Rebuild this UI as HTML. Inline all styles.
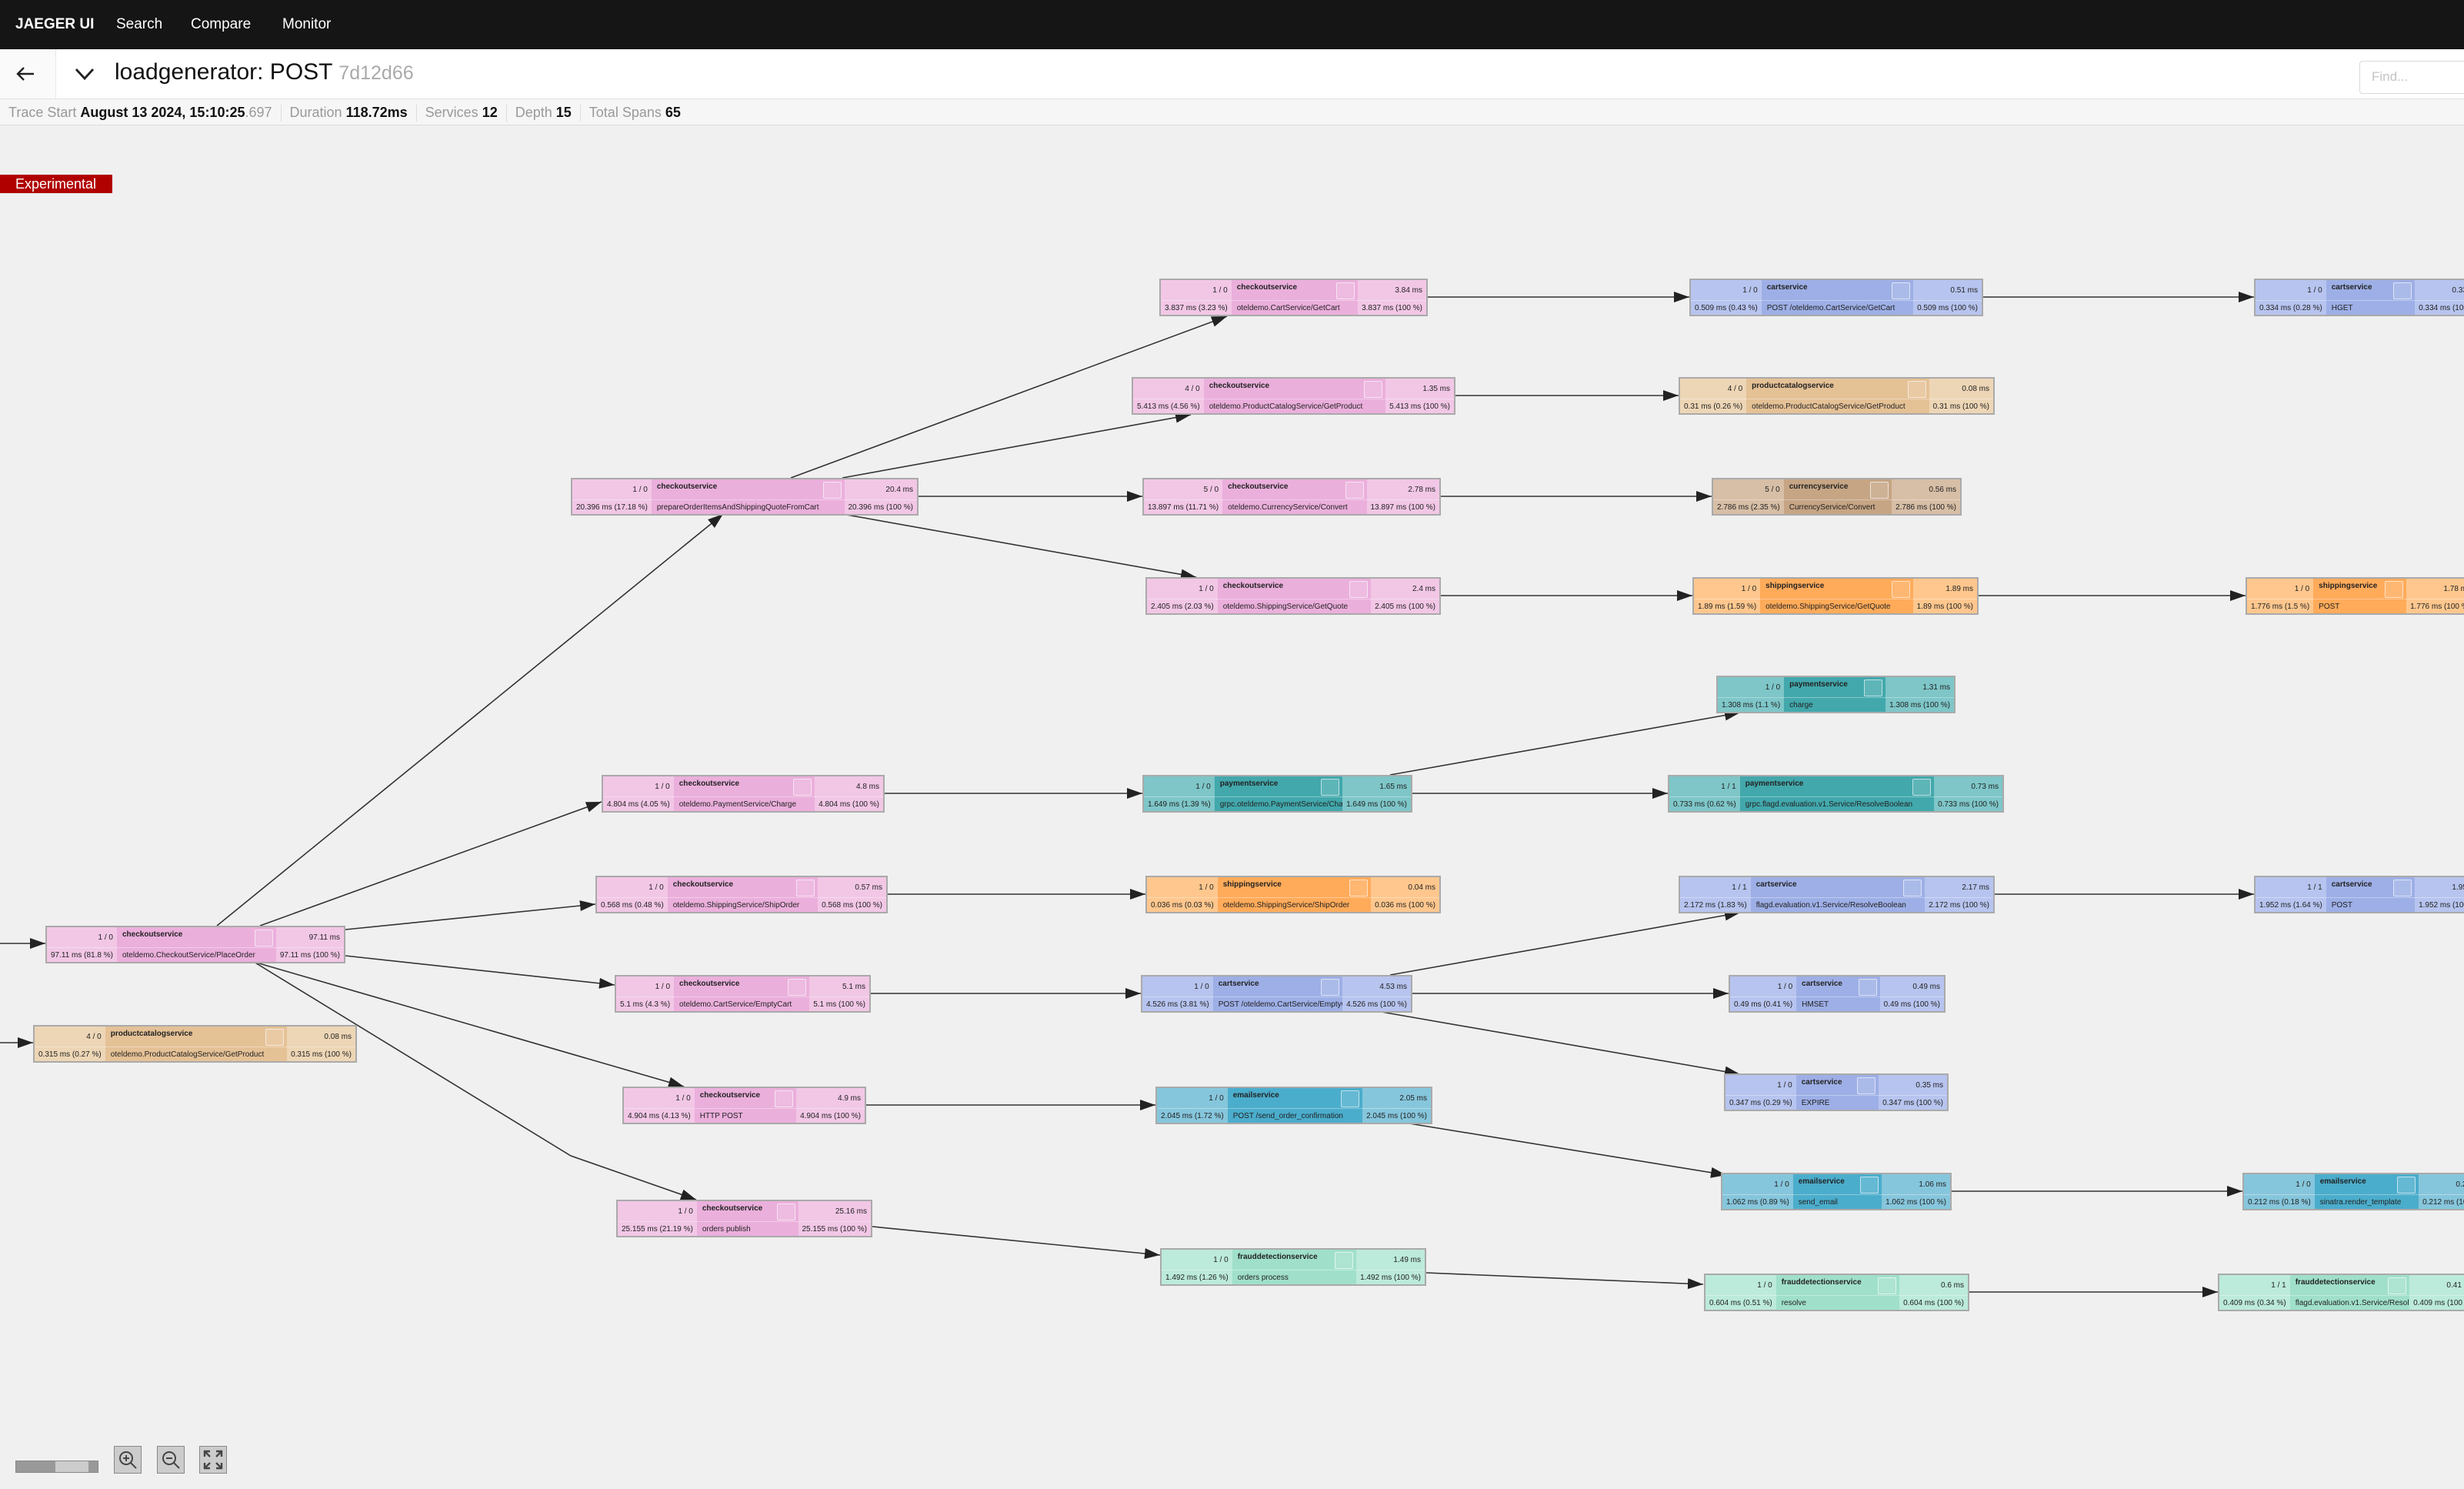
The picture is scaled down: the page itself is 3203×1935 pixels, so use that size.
<!DOCTYPE html>
<html><head><meta charset="utf-8">
<style>
*{margin:0;padding:0;box-sizing:border-box}
body{width:3203px;height:1935px;overflow:hidden;background:#f0f0f0;font-family:"Liberation Sans",sans-serif;position:relative}
.nav{position:absolute;left:0;top:0;width:3203px;height:64px;background:#151515;color:#fff;font-size:19px}
.nav span{position:absolute;top:21px}
.tb{position:absolute;left:0;top:64px;width:3203px;height:65px;background:#fff;border-bottom:1px solid #e2e2e2}
.back{position:absolute;left:0;top:0;width:73px;height:65px;border-right:1px solid #e6e6e6;border-bottom:1px solid #e2e2e2;background:#fafafa}
.title{position:absolute;left:149px;top:13px;font-size:30px;color:#111}
.title small{font-size:25px;color:#aaa}
.find{position:absolute;left:3067px;top:15px;width:150px;height:43px;border:1px solid #d9d9d9;border-radius:4px;color:#c4c4c4;font-size:17px;padding:10px 15px}
.st{position:absolute;left:0;top:129px;width:3203px;height:34px;background:#f6f6f6;border-bottom:1px solid #ddd;font-size:18px;color:#999;padding:7px 0 0 11px;white-space:nowrap}
.st b{color:#111}
.st .sep{display:inline-block;width:1px;height:22px;background:#ddd;margin:0 11px;vertical-align:middle}
.exp{position:absolute;left:0;top:227px;width:146px;height:24px;background:#b00000;color:#fff;font-size:18px;padding:2px 0 0 20px}
svg.e{position:absolute;left:0;top:0}
.n{position:absolute;height:49px;display:grid;grid-template-columns:auto minmax(0,1fr) auto;grid-template-rows:26px 21px;border:2px solid #aaa;font-size:10px;color:#222;white-space:nowrap;overflow:hidden}
.n>*{background:var(--l);padding:0 5px;overflow:hidden;font-style:normal}
.n>:nth-child(2),.n>:nth-child(5){background:var(--m);padding-left:7px}
.n>:nth-child(1),.n>:nth-child(3){text-align:right;padding-top:8px}
.n>:nth-child(2){font-weight:bold;padding-top:4px;position:relative}
.n>:nth-child(2)::after{content:"";position:absolute;right:4px;top:3px;width:22px;height:20px;border:1px solid rgba(255,255,255,.6);background:rgba(255,255,255,.15);border-radius:2px}
.n>:nth-child(n+4){padding-top:4px;border-top:1px solid rgba(255,255,255,.35)}
.n>:nth-child(4),.n>:nth-child(6){text-align:right}
.ck{--l:#f2c7e6;--m:#ebafdc}
.pc{--l:#edd6b6;--m:#e5c196}
.cu{--l:#d7bea6;--m:#c6a584}
.sh{--l:#ffc78e;--m:#ffab5a}
.ca{--l:#b7c4ef;--m:#9dafe6}
.pa{--l:#7ec6c8;--m:#42a8ac}
.em{--l:#86c6dc;--m:#4badcc}
.fr{--l:#bceadb;--m:#a0e0cb}
.ctl{position:absolute;border:1px solid #888;background:#ccc}
</style></head><body>
<div class="nav"><span style="left:20px;font-weight:bold">JAEGER UI</span><span style="left:151px">Search</span><span style="left:248px">Compare</span><span style="left:367px">Monitor</span></div>
<div class="tb">
<div class="back"><svg width="73" height="65"><path d="M44 32H23M31 24l-8 8 8 8" stroke="#222" stroke-width="2.4" fill="none"/></svg></div>
<svg style="position:absolute;left:96px;top:20px" width="28" height="24"><path d="M3 6l11 12 11-12" stroke="#222" stroke-width="2.8" fill="none"/></svg>
<div class="title">loadgenerator: POST <small>7d12d66</small></div>
<div class="find">Find...</div>
</div>
<div class="st">Trace Start <b>August 13 2024, 15:10:25</b>.697<span class="sep"></span>Duration <b>118.72ms</b><span class="sep"></span>Services <b>12</b><span class="sep"></span>Depth <b>15</b><span class="sep"></span>Total Spans <b>65</b></div>
<div class="exp">Experimental</div>

<svg class="e" width="3203" height="1935">
<defs><marker id="a" markerUnits="userSpaceOnUse" markerWidth="22" markerHeight="16" refX="20" refY="7" orient="auto"><path d="M0,0L20,7L0,14z" fill="#222"/></marker></defs>
<g stroke="#333" stroke-width="1.6" fill="none" marker-end="url(#a)">
<line x1="0" y1="1226" x2="59" y2="1226"/>
<line x1="0" y1="1355" x2="43" y2="1355"/>
<line x1="282" y1="1203" x2="940" y2="668"/>
<line x1="338" y1="1203" x2="782" y2="1042"/>
<line x1="449" y1="1208" x2="774" y2="1175"/>
<line x1="449" y1="1242" x2="799" y2="1280"/>
<line x1="330" y1="1250" x2="889" y2="1412"/>
<polyline points="330,1250 742,1502 905,1559"/>
<line x1="1028" y1="621" x2="1595" y2="411"/>
<line x1="1095" y1="621" x2="1548" y2="539"/>
<line x1="1194" y1="645" x2="1485" y2="645"/>
<line x1="1095" y1="668" x2="1555" y2="750"/>
<line x1="1856" y1="386" x2="2196" y2="386"/>
<line x1="2578" y1="386" x2="2930" y2="386"/>
<line x1="1892" y1="514" x2="2182" y2="514"/>
<line x1="1873" y1="645" x2="2225" y2="645"/>
<line x1="1873" y1="774" x2="2200" y2="774"/>
<line x1="2572" y1="774" x2="2919" y2="774"/>
<line x1="1150" y1="1031" x2="1485" y2="1031"/>
<line x1="1807" y1="1007" x2="2262" y2="926"/>
<line x1="1836" y1="1031" x2="2168" y2="1031"/>
<line x1="1154" y1="1162" x2="1489" y2="1162"/>
<line x1="2593" y1="1162" x2="2930" y2="1162"/>
<line x1="1132" y1="1291" x2="1483" y2="1291"/>
<line x1="1807" y1="1267" x2="2262" y2="1186"/>
<line x1="1836" y1="1291" x2="2247" y2="1291"/>
<line x1="1790" y1="1314" x2="2262" y2="1396"/>
<line x1="1126" y1="1436" x2="1502" y2="1436"/>
<line x1="1826" y1="1459" x2="2244" y2="1527"/>
<line x1="2537" y1="1548" x2="2915" y2="1548"/>
<line x1="1134" y1="1594" x2="1508" y2="1631"/>
<line x1="1854" y1="1654" x2="2214" y2="1669"/>
<line x1="2560" y1="1679" x2="2883" y2="1679"/>
</g></svg>

<div class="n ck" style="left:59px;top:1203px;width:390px"><i>1 / 0</i><b>checkoutservice</b><i>97.11 ms</i><i>97.11 ms (81.8 %)</i><span>oteldemo.CheckoutService/PlaceOrder</span><i>97.11 ms (100 %)</i></div>
<div class="n pc" style="left:43px;top:1332px;width:421px"><i>4 / 0</i><b>productcatalogservice</b><i>0.08 ms</i><i>0.315 ms (0.27 %)</i><span>oteldemo.ProductCatalogService/GetProduct</span><i>0.315 ms (100 %)</i></div>
<div class="n ck" style="left:742px;top:621px;width:452px"><i>1 / 0</i><b>checkoutservice</b><i>20.4 ms</i><i>20.396 ms (17.18 %)</i><span>prepareOrderItemsAndShippingQuoteFromCart</span><i>20.396 ms (100 %)</i></div>
<div class="n ck" style="left:1507px;top:362px;width:349px"><i>1 / 0</i><b>checkoutservice</b><i>3.84 ms</i><i>3.837 ms (3.23 %)</i><span>oteldemo.CartService/GetCart</span><i>3.837 ms (100 %)</i></div>
<div class="n ck" style="left:1471px;top:490px;width:421px"><i>4 / 0</i><b>checkoutservice</b><i>1.35 ms</i><i>5.413 ms (4.56 %)</i><span>oteldemo.ProductCatalogService/GetProduct</span><i>5.413 ms (100 %)</i></div>
<div class="n ck" style="left:1485px;top:621px;width:388px"><i>5 / 0</i><b>checkoutservice</b><i>2.78 ms</i><i>13.897 ms (11.71 %)</i><span>oteldemo.CurrencyService/Convert</span><i>13.897 ms (100 %)</i></div>
<div class="n ck" style="left:1489px;top:750px;width:384px"><i>1 / 0</i><b>checkoutservice</b><i>2.4 ms</i><i>2.405 ms (2.03 %)</i><span>oteldemo.ShippingService/GetQuote</span><i>2.405 ms (100 %)</i></div>
<div class="n ck" style="left:782px;top:1007px;width:368px"><i>1 / 0</i><b>checkoutservice</b><i>4.8 ms</i><i>4.804 ms (4.05 %)</i><span>oteldemo.PaymentService/Charge</span><i>4.804 ms (100 %)</i></div>
<div class="n ck" style="left:774px;top:1138px;width:380px"><i>1 / 0</i><b>checkoutservice</b><i>0.57 ms</i><i>0.568 ms (0.48 %)</i><span>oteldemo.ShippingService/ShipOrder</span><i>0.568 ms (100 %)</i></div>
<div class="n ck" style="left:799px;top:1267px;width:333px"><i>1 / 0</i><b>checkoutservice</b><i>5.1 ms</i><i>5.1 ms (4.3 %)</i><span>oteldemo.CartService/EmptyCart</span><i>5.1 ms (100 %)</i></div>
<div class="n ck" style="left:809px;top:1412px;width:317px"><i>1 / 0</i><b>checkoutservice</b><i>4.9 ms</i><i>4.904 ms (4.13 %)</i><span>HTTP POST</span><i>4.904 ms (100 %)</i></div>
<div class="n ck" style="left:801px;top:1559px;width:333px"><i>1 / 0</i><b>checkoutservice</b><i>25.16 ms</i><i>25.155 ms (21.19 %)</i><span>orders publish</span><i>25.155 ms (100 %)</i></div>
<div class="n ca" style="left:2196px;top:362px;width:382px"><i>1 / 0</i><b>cartservice</b><i>0.51 ms</i><i>0.509 ms (0.43 %)</i><span>POST /oteldemo.CartService/GetCart</span><i>0.509 ms (100 %)</i></div>
<div class="n ca" style="left:2930px;top:362px;width:300px"><i>1 / 0</i><b>cartservice</b><i>0.33 ms</i><i>0.334 ms (0.28 %)</i><span>HGET</span><i>0.334 ms (100 %)</i></div>
<div class="n pc" style="left:2182px;top:490px;width:411px"><i>4 / 0</i><b>productcatalogservice</b><i>0.08 ms</i><i>0.31 ms (0.26 %)</i><span>oteldemo.ProductCatalogService/GetProduct</span><i>0.31 ms (100 %)</i></div>
<div class="n cu" style="left:2225px;top:621px;width:325px"><i>5 / 0</i><b>currencyservice</b><i>0.56 ms</i><i>2.786 ms (2.35 %)</i><span>CurrencyService/Convert</span><i>2.786 ms (100 %)</i></div>
<div class="n sh" style="left:2200px;top:750px;width:372px"><i>1 / 0</i><b>shippingservice</b><i>1.89 ms</i><i>1.89 ms (1.59 %)</i><span>oteldemo.ShippingService/GetQuote</span><i>1.89 ms (100 %)</i></div>
<div class="n sh" style="left:2919px;top:750px;width:300px"><i>1 / 0</i><b>shippingservice</b><i>1.78 ms</i><i>1.776 ms (1.5 %)</i><span>POST</span><i>1.776 ms (100 %)</i></div>
<div class="n pa" style="left:2231px;top:878px;width:311px"><i>1 / 0</i><b>paymentservice</b><i>1.31 ms</i><i>1.308 ms (1.1 %)</i><span>charge</span><i>1.308 ms (100 %)</i></div>
<div class="n pa" style="left:1485px;top:1007px;width:351px"><i>1 / 0</i><b>paymentservice</b><i>1.65 ms</i><i>1.649 ms (1.39 %)</i><span>grpc.oteldemo.PaymentService/Charge</span><i>1.649 ms (100 %)</i></div>
<div class="n pa" style="left:2168px;top:1007px;width:437px"><i>1 / 1</i><b>paymentservice</b><i>0.73 ms</i><i>0.733 ms (0.62 %)</i><span>grpc.flagd.evaluation.v1.Service/ResolveBoolean</span><i>0.733 ms (100 %)</i></div>
<div class="n sh" style="left:1489px;top:1138px;width:384px"><i>1 / 0</i><b>shippingservice</b><i>0.04 ms</i><i>0.036 ms (0.03 %)</i><span>oteldemo.ShippingService/ShipOrder</span><i>0.036 ms (100 %)</i></div>
<div class="n ca" style="left:2182px;top:1138px;width:411px"><i>1 / 1</i><b>cartservice</b><i>2.17 ms</i><i>2.172 ms (1.83 %)</i><span>flagd.evaluation.v1.Service/ResolveBoolean</span><i>2.172 ms (100 %)</i></div>
<div class="n ca" style="left:2930px;top:1138px;width:300px"><i>1 / 1</i><b>cartservice</b><i>1.95 ms</i><i>1.952 ms (1.64 %)</i><span>POST</span><i>1.952 ms (100 %)</i></div>
<div class="n ca" style="left:1483px;top:1267px;width:353px"><i>1 / 0</i><b>cartservice</b><i>4.53 ms</i><i>4.526 ms (3.81 %)</i><span>POST /oteldemo.CartService/EmptyCart</span><i>4.526 ms (100 %)</i></div>
<div class="n ca" style="left:2247px;top:1267px;width:282px"><i>1 / 0</i><b>cartservice</b><i>0.49 ms</i><i>0.49 ms (0.41 %)</i><span>HMSET</span><i>0.49 ms (100 %)</i></div>
<div class="n ca" style="left:2241px;top:1395px;width:292px"><i>1 / 0</i><b>cartservice</b><i>0.35 ms</i><i>0.347 ms (0.29 %)</i><span>EXPIRE</span><i>0.347 ms (100 %)</i></div>
<div class="n em" style="left:1502px;top:1412px;width:360px"><i>1 / 0</i><b>emailservice</b><i>2.05 ms</i><i>2.045 ms (1.72 %)</i><span>POST /send_order_confirmation</span><i>2.045 ms (100 %)</i></div>
<div class="n em" style="left:2237px;top:1524px;width:300px"><i>1 / 0</i><b>emailservice</b><i>1.06 ms</i><i>1.062 ms (0.89 %)</i><span>send_email</span><i>1.062 ms (100 %)</i></div>
<div class="n em" style="left:2915px;top:1524px;width:320px"><i>1 / 0</i><b>emailservice</b><i>0.21 ms</i><i>0.212 ms (0.18 %)</i><span>sinatra.render_template</span><i>0.212 ms (100 %)</i></div>
<div class="n fr" style="left:1508px;top:1622px;width:346px"><i>1 / 0</i><b>frauddetectionservice</b><i>1.49 ms</i><i>1.492 ms (1.26 %)</i><span>orders process</span><i>1.492 ms (100 %)</i></div>
<div class="n fr" style="left:2215px;top:1655px;width:345px"><i>1 / 0</i><b>frauddetectionservice</b><i>0.6 ms</i><i>0.604 ms (0.51 %)</i><span>resolve</span><i>0.604 ms (100 %)</i></div>
<div class="n fr" style="left:2883px;top:1655px;width:340px"><i>1 / 1</i><b>frauddetectionservice</b><i>0.41 ms</i><i>0.409 ms (0.34 %)</i><span>flagd.evaluation.v1.Service/ResolveInt</span><i>0.409 ms (100 %)</i></div>

<div class="ctl" style="left:20px;top:1898px;width:108px;height:16px;background:#999"><div style="position:absolute;left:51px;top:0;width:43px;height:14px;background:#ccc"></div></div>
<div class="ctl" style="left:148px;top:1879px;width:36px;height:36px"><svg width="34" height="34"><circle cx="15" cy="15" r="8" stroke="#444" stroke-width="2" fill="none"/><path d="M21 21l7 7M11 15h8M15 11v8" stroke="#444" stroke-width="2"/></svg></div>
<div class="ctl" style="left:204px;top:1879px;width:36px;height:36px"><svg width="34" height="34"><circle cx="15" cy="15" r="8" stroke="#444" stroke-width="2" fill="none"/><path d="M21 21l7 7M11 15h8" stroke="#444" stroke-width="2"/></svg></div>
<div class="ctl" style="left:259px;top:1879px;width:36px;height:36px"><svg width="34" height="34"><path d="M6 13V6h7M6 6l7 7M28 13V6h-7M28 6l-7 7M6 21v7h7M6 28l7-7M28 21v7h-7M28 28l-7-7" stroke="#444" stroke-width="2.4" fill="none"/></svg></div>
</body></html>
